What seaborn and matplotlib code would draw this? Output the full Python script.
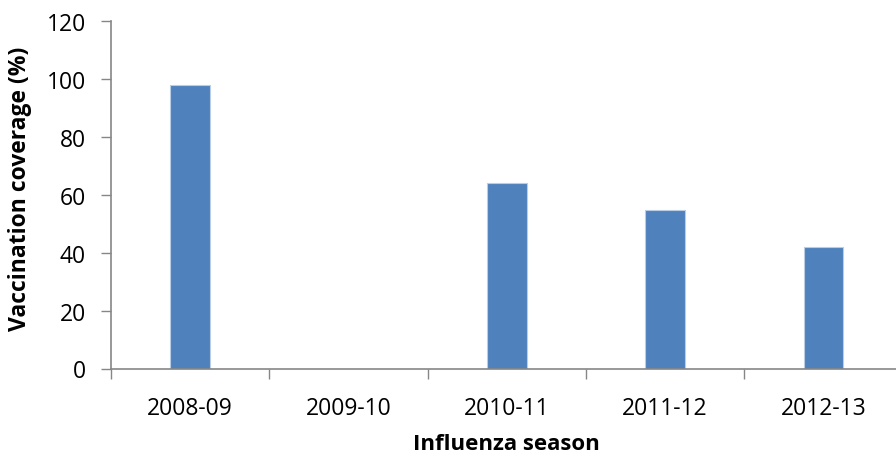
import matplotlib
matplotlib.use('Agg')

import numpy as np
import pandas as pd
import seaborn as sns
import matplotlib.pyplot as plt
from matplotlib.ticker import FixedLocator

# Vaccination coverage by influenza season (no data for 2009-10)
seasons = ['2008-09', '2009-10', '2010-11', '2011-12', '2012-13']
coverage = [98, np.nan, 64, 54.6, 42.1]
y_ticks = [0, 20, 40, 60, 80, 100, 120]

df = pd.DataFrame({'season': seasons, 'coverage': coverage})

sns.set_style('white')
plt.rcParams['font.family'] = ['Open Sans', 'DejaVu Sans']
plt.rcParams['text.color'] = 'black'
plt.rcParams['axes.labelcolor'] = 'black'

fig = plt.figure(figsize=(8.96, 4.56), dpi=100)
ax = fig.add_axes([111 / 896, 1 - 369.5 / 456, 1 - 111 / 896, (369.5 - 22) / 456])

sns.barplot(data=df, x='season', y='coverage', order=seasons, color='#4F81BD',
            width=0.25, saturation=1, edgecolor='#B9CDE5', linewidth=0.8, ax=ax)

grey = '#868686'
ax.set_ylim(0, 120)
ax.set_xlim(-0.5, -0.5 + (896 - 111) / 158.3)  # right part of the last category is cut off
ax.set_yticks(y_ticks)
ax.tick_params(axis='y', labelsize=16.5, length=7, width=1, color=grey, direction='out',
               left=True, pad=11, labelcolor='black')
ax.tick_params(axis='x', which='major', labelsize=16.5, length=0, pad=20, labelcolor='black')
# tick marks sit between categories, Excel style
ax.xaxis.set_minor_locator(FixedLocator(np.arange(-0.5, 5.0, 1.0)))
ax.tick_params(axis='x', which='minor', length=7, width=1, color=grey, direction='out', bottom=True)

for side in ['top', 'right']:
    ax.spines[side].set_visible(False)
for side in ['left', 'bottom']:
    ax.spines[side].set_color(grey)
    ax.spines[side].set_linewidth(1.2)

ax.set_xlabel('Influenza season', fontsize=16, fontweight='bold', color='black', va='center')
ax.set_ylabel('Vaccination coverage (%)', fontsize=16.5, fontweight='bold', color='black', va='center')
ax.xaxis.set_label_coords((506 - 111) / 785, (369.5 - 444) / 347.5)
ax.yaxis.set_label_coords((20 - 111) / 785, 0.52)

fig.savefig('out.png', dpi=100)
plt.close(fig)
